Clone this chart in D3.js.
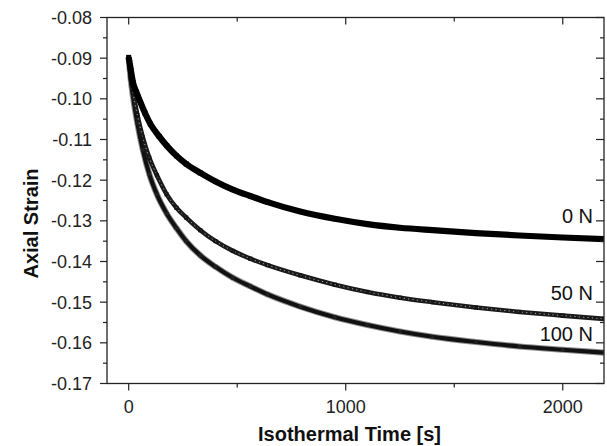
<!DOCTYPE html>
<html>
<head>
<meta charset="utf-8">
<script src="https://cdn.jsdelivr.net/npm/d3@7"></script>
<style>
  html, body { margin: 0; padding: 0; background: #fff; }
  svg { display: block; font-family: "Liberation Sans", Arial, Helvetica, sans-serif; }
</style>
</head>
<body>
<svg id="chart" width="607" height="446"></svg>
<script>
// ---- Data ----
const seriesNames = ["0 N", "50 N", "100 N"];

const time0N   = [0, 10, 20, 35, 50, 75, 100, 140, 175, 220, 265, 330, 400, 480, 560, 640, 790, 950, 1100, 1250, 1400, 1600, 1800, 2000, 2190];
const strain0N = [-0.0898, -0.0930, -0.0960, -0.0983, -0.1003, -0.1035, -0.1062, -0.1092, -0.1115, -0.1140, -0.1160, -0.1182, -0.1203, -0.1223, -0.1239, -0.1254, -0.1277, -0.1295, -0.1308, -0.1317, -0.1323, -0.1330, -0.1336, -0.1341, -0.1345];

const time50N   = [0, 10, 20, 40, 65, 95, 130, 175, 220, 265, 330, 400, 480, 560, 640, 790, 950, 1100, 1250, 1400, 1600, 1800, 2000, 2190];
const strain50N = [-0.0898, -0.0950, -0.0985, -0.1040, -0.1095, -0.1145, -0.1188, -0.1235, -0.1268, -0.1292, -0.1323, -0.1350, -0.1374, -0.1393, -0.1409, -0.1434, -0.1457, -0.1475, -0.1489, -0.1500, -0.1513, -0.1524, -0.1533, -0.1541];

const time100N   = [0, 10, 20, 40, 65, 95, 130, 175, 220, 265, 330, 400, 480, 560, 640, 790, 950, 1100, 1250, 1400, 1600, 1800, 2000, 2190];
const strain100N = [-0.0898, -0.0955, -0.0995, -0.1060, -0.1125, -0.1185, -0.1235, -0.1282, -0.1318, -0.1350, -0.1385, -0.1413, -0.1440, -0.1461, -0.1481, -0.1511, -0.1537, -0.1556, -0.1572, -0.1585, -0.1598, -0.1609, -0.1617, -0.1624];

const xTicks = [0, 1000, 2000];
const xMinorTicks = [500, 1500];
const yTicks = [-0.08, -0.09, -0.10, -0.11, -0.12, -0.13, -0.14, -0.15, -0.16, -0.17];
const yMinorTicks = [-0.085, -0.095, -0.105, -0.115, -0.125, -0.135, -0.145, -0.155, -0.165];
const labelStrain = [-0.1305, -0.1495, -0.1595];

const xTitle = "Isothermal Time [s]";
const yTitle = "Axial Strain";

// ---- Layout ----
const L = 107, R = 604, T = 17.5, B = 383.5;
const svg = d3.select("#chart");
const x = d3.scaleLinear().domain([-100, 2190]).range([L, R]);
const y = d3.scaleLinear().domain([-0.17, -0.08]).range([B, T]);

const series = [
  { name: seriesNames[0], pts: time0N.map((t, i) => [t, strain0N[i]]) },
  { name: seriesNames[1], pts: time50N.map((t, i) => [t, strain50N[i]]) },
  { name: seriesNames[2], pts: time100N.map((t, i) => [t, strain100N[i]]) }
];

const line = d3.line().x(d => x(d[0])).y(d => y(d[1])).curve(d3.curveMonotoneX);

svg.append("clipPath").attr("id", "clip").append("rect")
  .attr("x", L).attr("y", T).attr("width", R - L).attr("height", B - T);
const g = svg.append("g").attr("clip-path", "url(#clip)");

// 100 N : crosses, dense
g.append("path").datum(series[2].pts).attr("d", line)
  .attr("fill", "none").attr("stroke", "#8f8f8f").attr("stroke-width", 6.2);
g.append("path").datum(series[2].pts).attr("d", line)
  .attr("fill", "none").attr("stroke", "#111").attr("stroke-width", 4.2);
g.selectAll(".m100").data(series[2].pts).enter().append("path")
  .attr("d", d3.symbol(d3.symbolCross, 12))
  .attr("transform", d => `translate(${x(d[0])},${y(d[1])}) rotate(45)`)
  .attr("fill", "#222");

// 50 N : open markers, dense
g.append("path").datum(series[1].pts).attr("d", line)
  .attr("fill", "none").attr("stroke", "#1a1a1a").attr("stroke-width", 4.6);
g.append("path").datum(series[1].pts).attr("d", line)
  .attr("fill", "none").attr("stroke", "#b5b5b5").attr("stroke-width", 0.9)
  .attr("stroke-dasharray", "1.2,3.2");
g.selectAll(".m50").data(series[1].pts).enter().append("rect")
  .attr("x", d => x(d[0]) - 1.6).attr("y", d => y(d[1]) - 1.6)
  .attr("width", 3.2).attr("height", 3.2)
  .attr("fill", "none").attr("stroke", "#111").attr("stroke-width", 0.9);

// 0 N : solid dense squares
g.append("path").datum(series[0].pts).attr("d", line)
  .attr("fill", "none").attr("stroke", "#000").attr("stroke-width", 6.2);
g.selectAll(".m0").data(series[0].pts).enter().append("rect")
  .attr("x", d => x(d[0]) - 2.5).attr("y", d => y(d[1]) - 2.5)
  .attr("width", 5).attr("height", 5)
  .attr("fill", "#000");

// ---- Frame ----
svg.append("rect").attr("x", L).attr("y", T).attr("width", R - L).attr("height", B - T)
  .attr("fill", "none").attr("stroke", "#222").attr("stroke-width", 1.3);

const tickStroke = (sel) => sel.attr("stroke", "#222").attr("stroke-width", 1.2);

// left axis ticks (outward)
svg.selectAll(".yt").data(yTicks).enter().append("line")
  .attr("x1", L - 7).attr("x2", L).attr("y1", d => y(d)).attr("y2", d => y(d)).call(tickStroke);
svg.selectAll(".ytm").data(yMinorTicks).enter().append("line")
  .attr("x1", L - 4).attr("x2", L).attr("y1", d => y(d)).attr("y2", d => y(d)).call(tickStroke);
// right axis ticks (inward)
svg.selectAll(".yr").data(yTicks).enter().append("line")
  .attr("x1", R - 8).attr("x2", R).attr("y1", d => y(d)).attr("y2", d => y(d)).call(tickStroke);
svg.selectAll(".yrm").data(yMinorTicks).enter().append("line")
  .attr("x1", R - 4).attr("x2", R).attr("y1", d => y(d)).attr("y2", d => y(d)).call(tickStroke);
// bottom ticks (outward)
svg.selectAll(".xt").data(xTicks).enter().append("line")
  .attr("x1", d => x(d)).attr("x2", d => x(d)).attr("y1", B).attr("y2", B + 7).call(tickStroke);
svg.selectAll(".xtm").data(xMinorTicks).enter().append("line")
  .attr("x1", d => x(d)).attr("x2", d => x(d)).attr("y1", B).attr("y2", B + 4).call(tickStroke);
// top ticks (inward)
svg.selectAll(".xtt").data(xTicks).enter().append("line")
  .attr("x1", d => x(d)).attr("x2", d => x(d)).attr("y1", T).attr("y2", T + 7).call(tickStroke);
svg.selectAll(".xttm").data(xMinorTicks).enter().append("line")
  .attr("x1", d => x(d)).attr("x2", d => x(d)).attr("y1", T).attr("y2", T + 4).call(tickStroke);

// tick labels
svg.selectAll(".yl").data(yTicks).enter().append("text")
  .attr("x", L - 15).attr("y", d => y(d)).attr("dy", "0.36em")
  .attr("text-anchor", "end").attr("font-size", 18).attr("fill", "#222")
  .text(d => d3.format(".2f")(d).replace("−", "-"));
svg.selectAll(".xl").data(xTicks).enter().append("text")
  .attr("x", d => x(d)).attr("y", B + 29)
  .attr("text-anchor", "middle").attr("font-size", 18).attr("fill", "#222")
  .text(d => d);

// axis titles
svg.append("text").attr("x", (L + R) / 2 - 6).attr("y", 441)
  .attr("text-anchor", "middle").attr("font-size", 20).attr("font-weight", "bold").attr("fill", "#111")
  .text(xTitle);
svg.append("text").attr("transform", `translate(38,${(T + B) / 2 + 23}) rotate(-90)`)
  .attr("text-anchor", "middle").attr("font-size", 20).attr("font-weight", "bold").attr("fill", "#111")
  .text(yTitle);

// series labels
svg.selectAll(".sl").data(seriesNames).enter().append("text")
  .attr("x", 593).attr("y", (d, i) => y(labelStrain[i]))
  .attr("text-anchor", "end").attr("font-size", 20).attr("fill", "#111")
  .text(d => d);
</script>
</body>
</html>
